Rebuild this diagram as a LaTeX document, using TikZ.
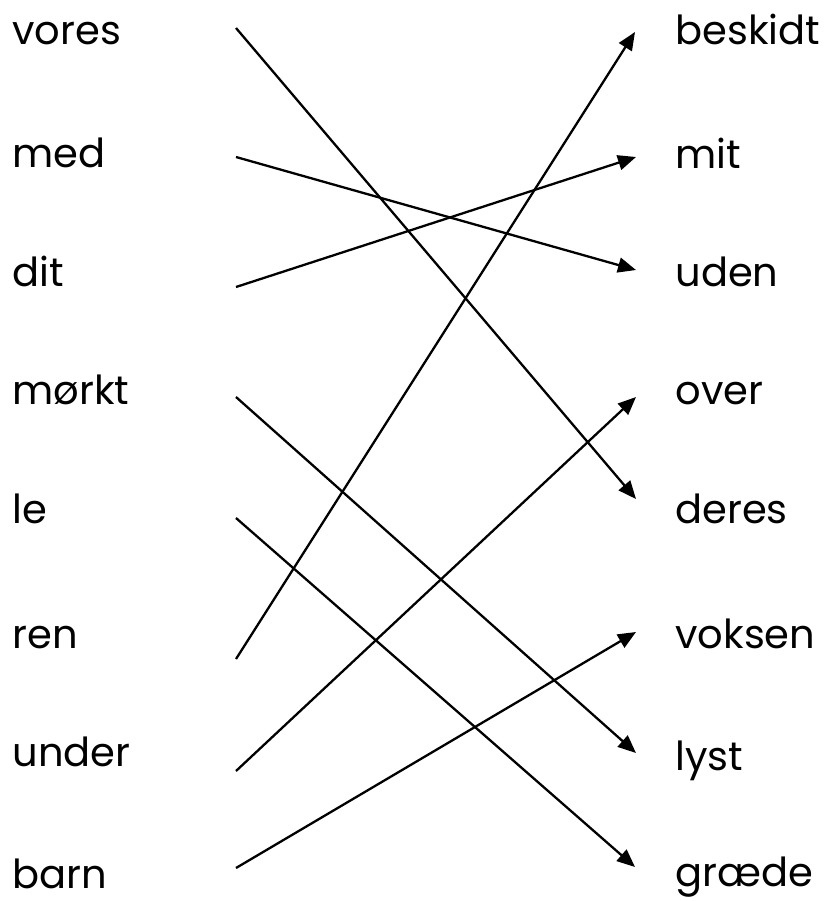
\documentclass[tikz,border=0pt]{standalone}
\usepackage{fontspec}
\setmainfont{Poppins}
\usetikzlibrary{arrows.meta}
\tikzset{
  word/.style={
    anchor=mid west,
    inner sep=0pt,
    font=\fontsize{20}{24}\selectfont
  },
  matcharrow/.style={-{Triangle[length=9pt,width=7.5pt]}, line width=1.15pt}
}
\begin{document}
\begin{tikzpicture}[x=0.5pt,y=-0.5pt]
  \useasboundingbox[fill=white] (0,0) rectangle (826,901);
  % left column
  \node[word] (vores)  at (12,39)  {vores};
  \node[word] (med)    at (12,162) {med};
  \node[word] (dit)    at (12,281) {dit};
  \node[word] (morkt)  at (12,399) {mørkt};
  \node[word] (le)     at (12,518) {le};
  \node[word] (ren)    at (12,643) {ren};
  \node[word] (under)  at (12,761) {under};
  \node[word] (barn)   at (12,883) {barn};
  % right column
  \node[word] (beskidt) at (675,39)  {beskidt};
  \node[word] (mit)     at (675,163) {mit};
  \node[word] (uden)    at (675,281) {uden};
  \node[word] (over)    at (675,399) {over};
  \node[word] (deres)   at (675,518) {deres};
  \node[word] (voksen)  at (675,643) {voksen};
  \node[word] (lyst)    at (675,765) {lyst};
  \node[word] (graede)  at (675,881) {græde};
  % connector ends
  \coordinate (vores-s)  at (236,28);
  \coordinate (med-s)    at (236,157);
  \coordinate (dit-s)    at (236,287);
  \coordinate (morkt-s)  at (236,397);
  \coordinate (le-s)     at (236,518);
  \coordinate (ren-s)    at (236,659);
  \coordinate (under-s)  at (236,771);
  \coordinate (barn-s)   at (236,868);
  \coordinate (beskidt-e) at (635,32);
  \coordinate (mit-e)     at (636,157);
  \coordinate (uden-e)    at (636,270);
  \coordinate (over-e)    at (636,397);
  \coordinate (deres-e)   at (636,499);
  \coordinate (voksen-e)  at (636,632);
  \coordinate (lyst-e)    at (636,753);
  \coordinate (graede-e)  at (635,867);
  % matches
  \draw[matcharrow] (vores-s) -- (deres-e);
  \draw[matcharrow] (med-s) -- (uden-e);
  \draw[matcharrow] (dit-s) -- (mit-e);
  \draw[matcharrow] (morkt-s) -- (lyst-e);
  \draw[matcharrow] (le-s) -- (graede-e);
  \draw[matcharrow] (ren-s) -- (beskidt-e);
  \draw[matcharrow] (under-s) -- (over-e);
  \draw[matcharrow] (barn-s) -- (voksen-e);
\end{tikzpicture}
\end{document}
